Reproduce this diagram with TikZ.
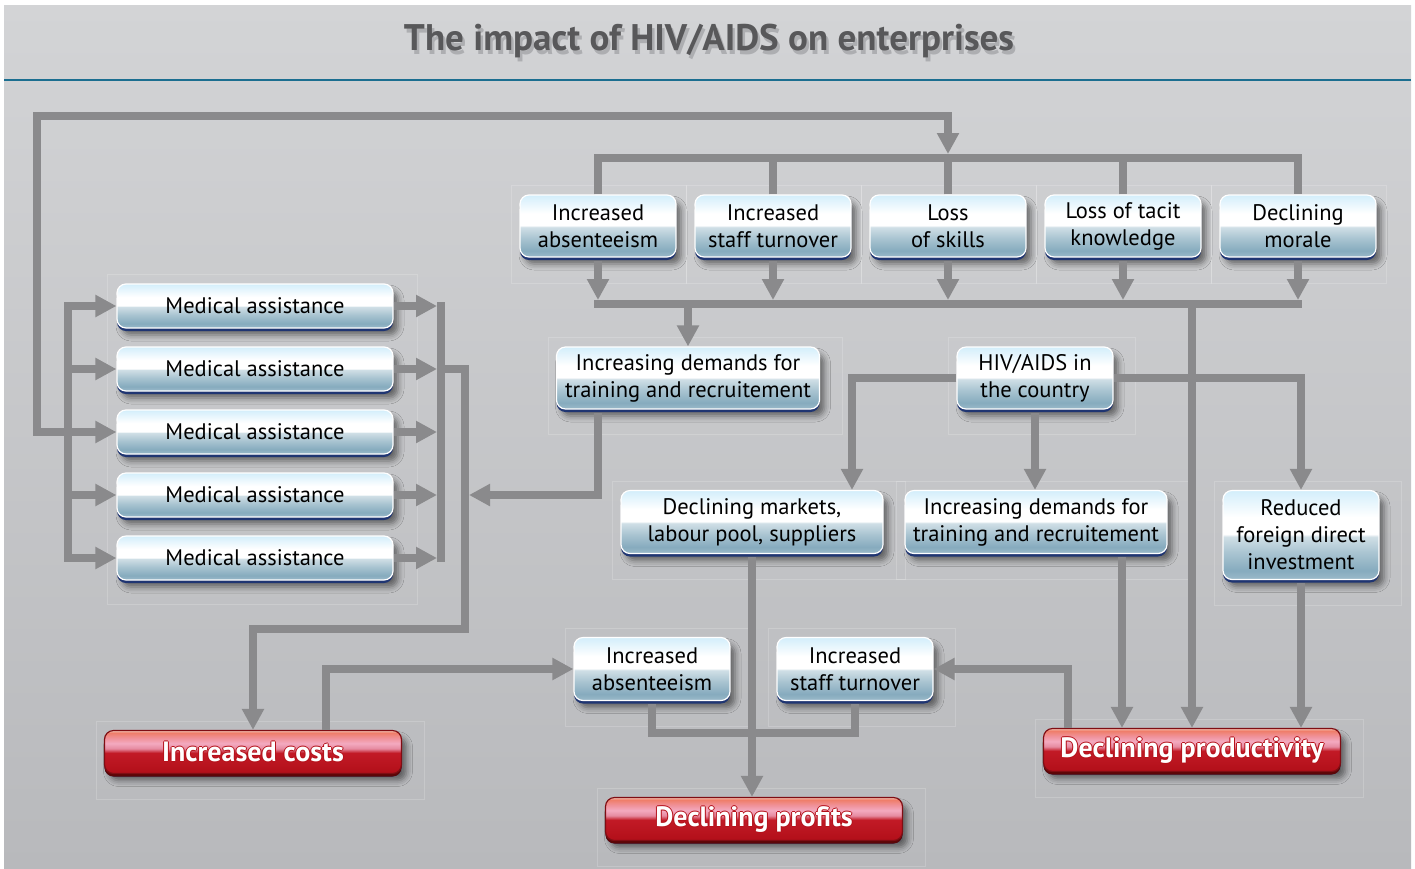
\documentclass[tikz,border=0pt]{standalone}
\usepackage{fontspec}
\setmainfont{PT Sans}
\usetikzlibrary{arrows.meta,shadows.blur,positioning}

\definecolor{paneltop}{HTML}{D3D4D6}
\definecolor{panelbot}{HTML}{B8B9BC}
\definecolor{rulecol}{HTML}{1B6E90}
\definecolor{wiregray}{HTML}{8A8A8C}
\definecolor{titlegray}{HTML}{58585A}
\definecolor{titleshade}{HTML}{ADAEB1}
\definecolor{navyedge}{HTML}{1F3572}
\definecolor{darkrim}{HTML}{5C0607}
\definecolor{redrim}{HTML}{B5121B}
\definecolor{gbA}{HTML}{9BBACA}
\definecolor{gbB}{HTML}{86ABBE}
\definecolor{gbC}{HTML}{A9C4D1}
\definecolor{gbD}{HTML}{D0DFE6}
\definecolor{gbE}{HTML}{D3EEFB}
\definecolor{grA}{HTML}{B20F19}
\definecolor{grB}{HTML}{C21A26}
\definecolor{grC}{HTML}{E68AA0}
\definecolor{grD}{HTML}{F3AAC0}
\definecolor{grE}{HTML}{F0929A}
\definecolor{grF}{HTML}{EF7D68}
\definecolor{grG}{HTML}{F4C6B6}

\pgfdeclareverticalshading{glassblue}{100bp}{color(0bp)=(gbA); color(25bp)=(gbA); color(30bp)=(gbB); color(40bp)=(gbC); color(49bp)=(gbD); color(50.5bp)=(white); color(60bp)=(white); color(75bp)=(gbE); color(100bp)=(gbE)}
\pgfdeclareverticalshading{glassred}{100bp}{color(0bp)=(grA); color(25bp)=(grA); color(49bp)=(grB); color(54bp)=(grC); color(60bp)=(grD); color(66bp)=(grE); color(72.5bp)=(grF); color(75bp)=(grG); color(100bp)=(grG)}

\newcommand{\hotlabel}[1]{{\bfseries\fontsize{28}{32}\selectfont\rlap{\kern1pt\color{redrim}#1}\rlap{\kern-1pt\color{redrim}#1}\rlap{\raisebox{1pt}{\color{redrim}#1}}\rlap{\raisebox{-1pt}{\color{redrim}#1}}\color{white}#1}}

\begin{document}
\begin{tikzpicture}[x=1pt,y=-1pt,>={Triangle[length=21pt,width=21pt]},node distance=175pt]
\tikzstyle{wire}=[draw=wiregray,line width=8pt]
\tikzstyle{bus}=[wire,line cap=rect]
\tikzstyle{flow}=[wire,->]
\tikzstyle{ghost}=[draw=white,draw opacity=0.18,line width=0.8pt]
\tikzstyle{box}=[rectangle,rounded corners=9pt,inner sep=0pt,align=center,text=black,
  blur shadow={shadow xshift=5pt,shadow yshift=-7pt,shadow blur radius=6pt,shadow opacity=50},
  preaction={fill=navyedge,transform canvas={yshift=-3pt}},
  shade,shading=glassblue,draw=white,line width=1.2pt,font=\fontsize{22.5}{27}\selectfont]
\tikzstyle{tbox}=[box,minimum width=156pt,minimum height=62pt]
\tikzstyle{mbox}=[box,minimum width=276pt,minimum height=44pt]
\tikzstyle{alarm}=[box,shading=glassred,draw=redrim!70!black,
  preaction={fill=darkrim,transform canvas={yshift=-3pt}},minimum width=297pt,minimum height=43pt]

\useasboundingbox (0,0) rectangle (1415,868);
\fill[white] (0,0) rectangle (1415,868);
\shade[top color=paneltop,bottom color=panelbot] (4,5) rectangle (1411,868);
\draw[rulecol,line width=2.5pt] (4,80) -- (1411,80);

\node[font=\bfseries\fontsize{37}{40}\selectfont,text=titlegray] (title) at (709,43)
  {\rlap{\kern2.5pt\raisebox{-3.5pt}{\color{titleshade}The impact of HIV/AIDS on enterprises}}The impact of HIV/AIDS on enterprises};

\node[tbox] (t1) at (598,226) {Increased\\absenteeism};
\node[tbox,right of=t1] (t2) {Increased\\staff turnover};
\node[tbox,right of=t2] (t3) {Loss\\of skills};
\node[tbox,right of=t3] (t4) {Loss of tacit\\knowledge};
\node[tbox,right of=t4] (t5) {Declining\\morale};

\node[mbox] (m1) at (255,306) {Medical assistance};
\node[mbox,below of=m1,node distance=63pt] (m2) {Medical assistance};
\node[mbox,below of=m2,node distance=63pt] (m3) {Medical assistance};
\node[mbox,below of=m3,node distance=63pt] (m4) {Medical assistance};
\node[mbox,below of=m4,node distance=63pt] (m5) {Medical assistance};

\node[box,minimum width=263pt,minimum height=62pt] (dem1) at (688,378) {Increasing demands for\\training and recruitement};
\node[tbox] (hiv) at (1035,378) {HIV/AIDS in\\the country};
\node[box,minimum width=262pt,minimum height=63pt] (mkt) at (752,522) {Declining markets,\\labour pool, suppliers};
\node[box,minimum width=262pt,minimum height=63pt] (dem2) at (1036,522) {Increasing demands for\\training and recruitement};
\node[box,minimum width=156pt,minimum height=89pt] (fdi) at (1301,535) {Reduced\\foreign direct\\investment};
\node[tbox,minimum height=63pt] (abs2) at (652,669) {Increased\\absenteeism};
\node[tbox,minimum height=63pt] (turn2) at (855,669) {Increased\\staff turnover};

\node[alarm] (costs) at (253,752) {\hotlabel{Increased costs}};
\node[alarm] (profits) at (754,819) {\hotlabel{Declining profits}};
\node[alarm] (prod) at (1192,750) {\hotlabel{Declining productivity}};

\foreach \n in {t1,t2,t3,t4,t5}
  \draw[ghost] ([xshift=-8pt,yshift=9pt]\n.north west) rectangle ([xshift=10pt,yshift=-26pt]\n.south east);
\foreach \n in {dem1,hiv,mkt,dem2,fdi,abs2,turn2,costs,profits,prod}
  \draw[ghost] ([xshift=-8pt,yshift=9pt]\n.north west) rectangle ([xshift=22pt,yshift=-25pt]\n.south east);
\draw[ghost] ([xshift=-9pt,yshift=9pt]m1.north west) rectangle ([xshift=24pt,yshift=-24pt]m5.south east);

\coordinate (tb) at (598,158);
\coordinate (bb) at (598,304);
\coordinate (loop) at (37,116);
\coordinate (lb) at (68,0);
\coordinate (rb) at (441,0);
\coordinate (cl) at (465,629);
\coordinate (jn) at (0,733);

\draw[wire] (t1.north) -- (t1.north |- tb) -- (t5.north |- tb) -- (t5.north);
\foreach \i in {2,3,4} \draw[wire] (t\i.north) -- (t\i.north |- tb);
\draw[wire,<->,shorten >=4pt] (m3.west) -| (loop) -| (t3.north |- tb);
\draw[bus] (t1.south |- bb) -- (t5.south |- bb);
\foreach \i in {1,...,5} \draw[flow,shorten <=3pt,shorten >=4pt] (t\i.south) -- (t\i.south |- bb);
\draw[flow] (dem1.north |- bb) -- (dem1.north);
\draw[flow] (prod.north |- bb) -- (prod.north);

\draw[bus] (lb |- m1.west) -- (lb |- m5.west);
\foreach \i in {1,2,4,5} \draw[flow] (lb |- m\i.west) -- (m\i.west);
\draw[bus] (rb |- m1.east) -- (rb |- m5.east);
\foreach \i in {1,...,5} \draw[flow,shorten >=4pt] (m\i.east) -- (rb |- m\i.east);
\draw[flow] (rb |- m2.east) -| (cl) -| (costs.north);
\draw[flow,shorten <=3pt,shorten >=4pt] ([xshift=-90pt]dem1.south) |- (cl |- m4.east);

\draw[flow] (hiv.west) -| ([xshift=100pt]mkt.north);
\draw[flow,shorten <=3pt] (hiv.south) -- (hiv.south |- dem2.north);
\draw[flow] (hiv.east) -| (fdi.north);

\draw[flow,shorten <=3pt] (mkt.south) -- (mkt.south |- profits.north);
\draw[wire,shorten <=3pt,shorten >=3pt] (abs2.south) -- (abs2.south |- jn) -| (turn2.south);
\draw[flow] ([xshift=73pt]costs.north) |- (abs2.west);
\draw[flow] ([xshift=-124pt]prod.north) |- (turn2.east);
\draw[flow,shorten <=3pt] ([xshift=86pt]dem2.south) -- ([xshift=86pt]dem2.south |- prod.north);
\draw[flow,shorten <=3pt] (fdi.south) -- (fdi.south |- prod.north);
\end{tikzpicture}
\end{document}
